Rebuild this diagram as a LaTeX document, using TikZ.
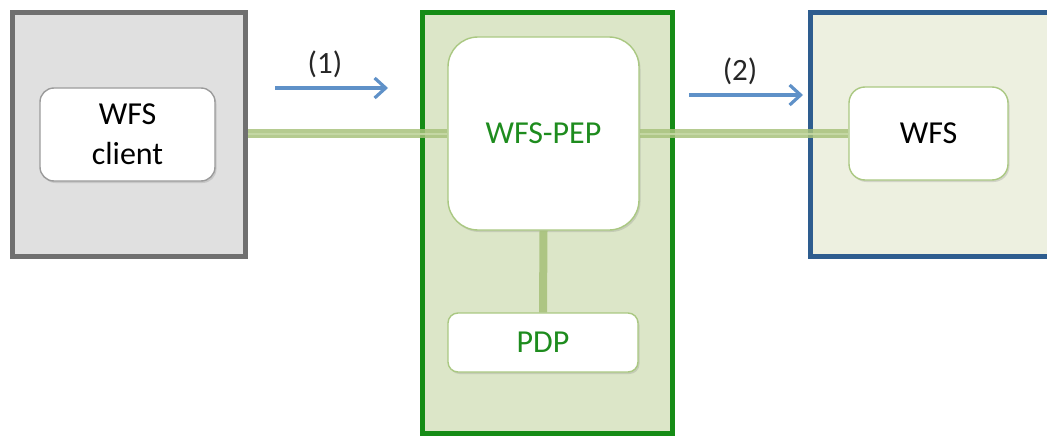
\documentclass[tikz,border=0pt]{standalone}
\usepackage{fontspec}
\setmainfont{Carlito}
\usetikzlibrary{arrows.meta,shadows}
\definecolor{grayfill}{RGB}{224,224,224}
\definecolor{grayline}{RGB}{112,112,112}
\definecolor{greenfill}{RGB}{220,230,200}
\definecolor{greenline}{RGB}{22,140,22}
\definecolor{bluefill}{RGB}{237,240,224}
\definecolor{blueline}{RGB}{46,93,143}
\definecolor{nodeedge}{RGB}{170,200,130}
\definecolor{linkouter}{RGB}{168,194,124}
\definecolor{linkinner}{RGB}{200,218,168}
\definecolor{flowblue}{RGB}{95,145,200}
\definecolor{pepgreen}{RGB}{30,140,30}
\tikzset{
  outerbox/.style={draw, line width=5pt, minimum width=#1, inner sep=0pt},
  inner/.style={draw=nodeedge, fill=white, line width=1.4pt, inner sep=0pt,
    align=center, font=\fontsize{32}{40}\selectfont,
    drop shadow={opacity=0.25, shadow xshift=1.5pt, shadow yshift=-2pt}},
  link/.style={draw=linkouter, double=linkinner, double distance=2pt, line width=3.2pt, opacity=0.85},
  stem/.style={draw=linkouter, line width=8pt, opacity=0.9},
  flow/.style={draw=flowblue, line width=3.2pt, -{Straight Barb[length=11pt,width=20pt,line width=3.2pt]}},
  flowlabel/.style={font=\fontsize{31}{34}\selectfont, text=black!85}
}
\begin{document}
\begin{tikzpicture}[x=1pt,y=-1pt]
\useasboundingbox (0,0) rectangle (1047,436);

% outer containers
\node[outerbox=233pt, minimum height=243pt, draw=grayline, fill=grayfill] (clientbox) at (128.5,134.5) {};
\node[outerbox=250pt, minimum height=420pt, draw=greenline, fill=greenfill] (pepbox) at (547,223) {};
\node[outerbox=250pt, minimum height=243pt, draw=blueline, fill=bluefill] (wfsbox) at (935,134.5) {};

% components
\node[inner, draw=grayline!70, rounded corners=14pt, minimum width=175pt, minimum height=93pt] (client) at (127.5,134.5) {WFS\\client};
\node[inner, rounded corners=30pt, minimum width=191pt, minimum height=193pt, text=pepgreen] (pep) at (543.5,133.5) {WFS-PEP};
\node[inner, rounded corners=10pt, minimum width=190pt, minimum height=59pt, text=pepgreen] (pdp) at (543,342.5) {PDP};
\node[inner, rounded corners=16pt, minimum width=159pt, minimum height=93pt] (wfs) at (928.5,133.5) {WFS};

% connections
\draw[link] (clientbox.east |- pep.west) -- (pep.west);
\draw[link] (pep.east) -- (wfs.west);
\draw[stem] (pep.south) -- (pdp.north);

% request flow
\coordinate (f1a) at (275,88);
\coordinate (f1b) at (388,88);
\coordinate (f2a) at (689,95);
\coordinate (f2b) at (803,95);
\draw[flow] (f1a) -- (f1b);
\draw[flow] (f2a) -- (f2b);
\node[flowlabel] (l1) at (325,64) {(1)};
\node[flowlabel] (l2) at (740,71) {(2)};
\end{tikzpicture}
\end{document}
